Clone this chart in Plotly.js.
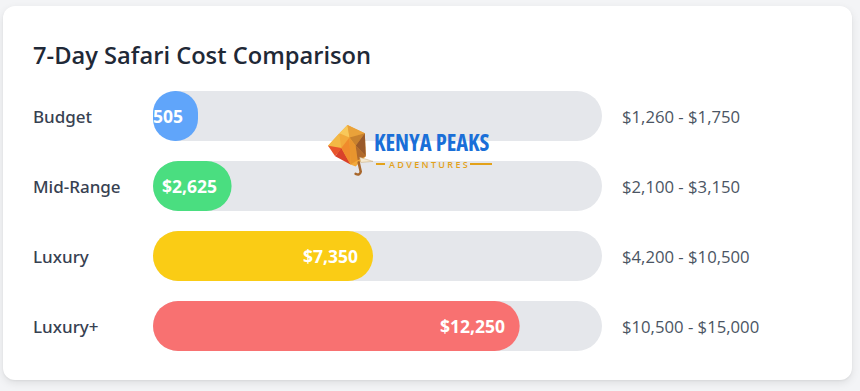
<!DOCTYPE html>
<html>
<head>
<meta charset="utf-8">
<script src="https://cdn.plot.ly/plotly-3.0.1.min.js"></script>
<style>
  html, body { margin: 0; padding: 0; background: #f3f4f6; width: 860px; height: 391px; overflow: hidden; }
  #card { position: absolute; left: 3px; top: 6px; width: 849px; height: 374px; background: #ffffff;
          border-radius: 12px; box-shadow: 0 3px 8px rgba(0,0,0,0.09), 0 1px 2px rgba(0,0,0,0.05); }
  #chart { position: absolute; left: 0; top: 0; width: 860px; height: 391px; }
</style>
</head>
<body>
<div id="card"></div>
<div id="chart"></div>
<script>
// ---- Data ----
const categories = ['Budget', 'Mid-Range', 'Luxury', 'Luxury+'];
const averageCost = [505, 2625, 7350, 12250];
const valueLabels = ['505', '$2,625', '$7,350', '$12,250'];
const rangeLabels = ['$1,260 - $1,750', '$2,100 - $3,150', '$4,200 - $10,500', '$10,500 - $15,000'];
const barColors = ['#60a5fa', '#4ade80', '#facc15', '#f87171'];
const scaleMax = 15000;

// ---- Layout constants (pixels) ----
const W = 860, H = 391;
const trackLeft = 153, trackRight = 602;
const rowsTop = 81, rowsBottom = 361;
const minBarPx = 45;
const FONT = '"Open Sans", "Noto Sans", sans-serif';
const FONT_MED = '"Noto Sans", "Open Sans", sans-serif';

const px2x = p => p / W;
const px2y = p => 1 - p / H;

const minVal = minBarPx / (trackRight - trackLeft) * scaleMax;
const shown = averageCost.map(v => Math.max(v, minVal));
const trackFull = categories.map(() => scaleMax);
const zeros = categories.map(() => 0);

const common = {
  type: 'bar', orientation: 'h', y: categories, hoverinfo: 'skip',
  cliponaxis: false, showlegend: false
};
const traces = [
  Object.assign({}, common, { x: trackFull, base: zeros, marker: { color: '#e5e7eb', cornerradius: 25, line: { width: 0 } } }),
  Object.assign({}, common, { x: shown, base: zeros, marker: { color: barColors, cornerradius: 25, line: { width: 0 } } })
];

const annotations = [];
categories.forEach((c, i) => {
  annotations.push({ xref: 'paper', x: px2x(33), xanchor: 'left', xshift: -2, yref: 'y', y: c, yanchor: 'middle',
    text: c, showarrow: false, font: { family: FONT_MED, size: 17, color: '#374151', weight: 500 } });
  annotations.push({ xref: 'paper', x: px2x(622), xanchor: 'left', xshift: -2, yref: 'y', y: c, yanchor: 'middle',
    text: rangeLabels[i], showarrow: false, font: { family: FONT, size: 16.7, color: '#4b5563' } });
  annotations.push({ xref: 'x', x: shown[i], xanchor: 'right', xshift: -13, yref: 'y', y: c, yanchor: 'middle',
    text: valueLabels[i], showarrow: false, font: { family: FONT, size: 17.5, color: '#ffffff', weight: 700 } });
});
// Logo text
annotations.push({ xref: 'paper', x: px2x(432), xanchor: 'center', yref: 'paper', y: px2y(142.5), yanchor: 'middle',
  text: '<span style="font-stretch:75%">KENYA PEAKS</span>', showarrow: false, borderpad: 0,
  font: { family: '"Open Sans", sans-serif', size: 22.5, color: '#1a6fd8', weight: 700 } });
annotations.push({ xref: 'paper', x: px2x(428), xanchor: 'center', yref: 'paper', y: px2y(164.5), yanchor: 'middle',
  text: 'A D V E N T U R E S', showarrow: false, borderpad: 0, font: { family: FONT, size: 9, color: '#e3a21a', weight: 600 } });

const elephantSVG = '<svg xmlns="http://www.w3.org/2000/svg" viewBox="0 0 45 50" preserveAspectRatio="none">' +
  '<polygon points="20,0 37,8 38,30 28,40 23,38 1,20" fill="#f2a93b"/>' +
  '<polygon points="20,0 12,8 22,12" fill="#f8c85a"/>' +
  '<polygon points="20,0 37,8 22,12" fill="#e9a23a"/>' +
  '<polygon points="1,20 12,8 14,22" fill="#f3b845"/>' +
  '<polygon points="1,20 14,22 8,30" fill="#e8542c"/>' +
  '<polygon points="8,30 14,22 23,38" fill="#d9402a"/>' +
  '<polygon points="14,22 22,12 23,38" fill="#f08a2c"/>' +
  '<polygon points="22,12 37,8 28,20" fill="#c8822e"/>' +
  '<polygon points="28,20 37,8 38,30" fill="#9a5a2a"/>' +
  '<polygon points="22,12 28,20 30,34 23,38" fill="#e8952e"/>' +
  '<polygon points="28,20 38,30 30,34" fill="#b06a2c"/>' +
  '<polygon points="32,31 45,35 33,36" fill="#f6ead0" stroke="#c9a878" stroke-width="0.5"/>' +
  '<path d="M31,36 L33,45 Q32,49 28,47" fill="none" stroke="#a8672c" stroke-width="2.5" stroke-linecap="round"/>' +
  '</svg>';

const layout = {
  width: W, height: H,
  margin: { l: 0, r: 0, t: 0, b: 0, pad: 0 },
  paper_bgcolor: 'rgba(0,0,0,0)', plot_bgcolor: 'rgba(0,0,0,0)',
  barmode: 'overlay', bargap: 1 - 50 / 70,
  hovermode: false, showlegend: false,
  title: { text: '7-Day Safari Cost Comparison', xref: 'paper', x: px2x(33), xanchor: 'left',
           yref: 'paper', y: px2y(56), yanchor: 'middle',
           font: { family: FONT, size: 23.7, color: '#1f2937', weight: 600 } },
  xaxis: { range: [0, scaleMax], domain: [px2x(trackLeft), px2x(trackRight)], visible: false, fixedrange: true },
  yaxis: { type: 'category', autorange: 'reversed', domain: [px2y(rowsBottom), px2y(rowsTop)], visible: false, fixedrange: true },
  annotations: annotations,
  shapes: [
    { type: 'line', xref: 'paper', yref: 'paper', x0: px2x(376), x1: px2x(385), y0: px2y(164), y1: px2y(164), line: { color: '#e3a21a', width: 2 } },
    { type: 'line', xref: 'paper', yref: 'paper', x0: px2x(470), x1: px2x(492), y0: px2y(164), y1: px2y(164), line: { color: '#e3a21a', width: 2 } }
  ],
  images: [{
    source: 'data:image/svg+xml;charset=utf-8,' + encodeURIComponent(elephantSVG),
    xref: 'paper', yref: 'paper', x: px2x(327), y: px2y(125), sizex: 46 / W, sizey: 52 / H,
    xanchor: 'left', yanchor: 'top', sizing: 'stretch', layer: 'above'
  }]
};

Plotly.newPlot('chart', traces, layout, { staticPlot: true, displayModeBar: false });
</script>
</body>
</html>
